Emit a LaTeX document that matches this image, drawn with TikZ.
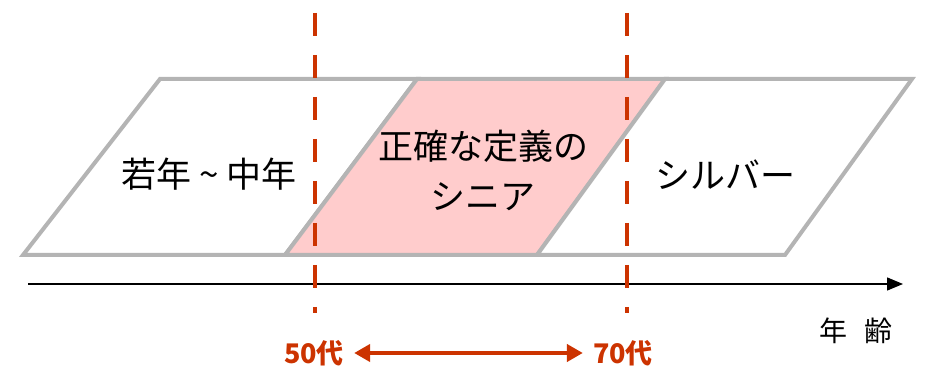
\documentclass[tikz,border=0pt]{standalone}
\usepackage{fontspec}
\setmainfont{Noto Sans CJK JP}
\usetikzlibrary{arrows.meta}
\definecolor{edgegray}{RGB}{180,180,180}
\definecolor{pinkfill}{RGB}{255,204,204}
\definecolor{ager}{RGB}{204,51,0}
\begin{document}
\begin{tikzpicture}[x=1pt,y=-1pt,
  para/.style={draw=edgegray,line width=4pt,line join=miter},
  agedash/.style={draw=ager,line width=4pt,dash pattern=on 23pt off 19pt},
  bigtxt/.style={font=\fontsize{35}{50}\selectfont,align=center,inner sep=0pt},
  agetxt/.style={font=\fontsize{27}{30}\selectfont\bfseries,text=ager,inner sep=0pt},
  axtxt/.style={font=\fontsize{28}{30}\selectfont,inner sep=0pt}]
\useasboundingbox (0,0) rectangle (943,371);
% parallelograms
\draw[para,fill=white] (23,255) -- (285,255) -- (417,79) -- (160,79) -- cycle;
\draw[para,fill=pinkfill] (285,255) -- (537,255) -- (665,79) -- (417,79) -- cycle;
\draw[para,fill=white] (537,255) -- (785,255) -- (912,79) -- (665,79) -- cycle;
% texts
\node[bigtxt] (young) at (209,174) {若年 \textasciitilde{} 中年};
\node[bigtxt] (senior) at (483,170) {正確な定義の\\シニア};
\node[bigtxt] (silver) at (725,175) {シルバー};
% axis
\coordinate (axs) at (28,284);
\coordinate (axe) at (903,284);
\draw[line width=1.5pt,-{Triangle[length=16pt,width=13pt]}] (axs) -- (axe);
\node[axtxt] (agelabel) at (856,331) {年\hspace{0.6em}齢};
% dashed lines
\coordinate (d1t) at (315,13);
\coordinate (d1b) at (315,313);
\coordinate (d2t) at (627,13);
\coordinate (d2b) at (627,313);
\draw[agedash] (d1t) -- (d1b);
\draw[agedash] (d2t) -- (d2b);
% age labels
\node[agetxt] (a50) at (314,353) {50代};
\node[agetxt] (a70) at (623,353) {70代};
\draw[draw=ager,line width=4pt,{Triangle[length=16pt,width=17pt]}-{Triangle[length=16pt,width=17pt]}] ([xshift=10pt]a50.east) -- ([xshift=-10pt]a70.west);
\end{tikzpicture}
\end{document}
